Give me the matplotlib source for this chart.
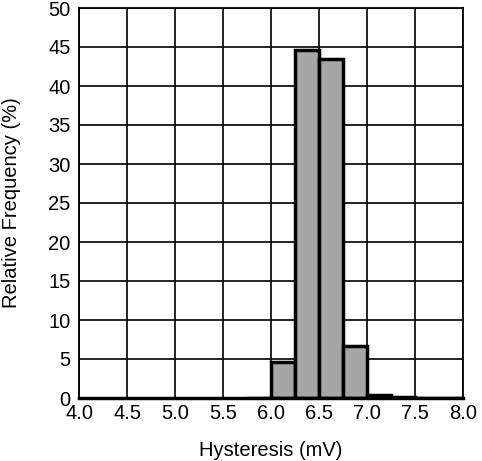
import numpy as np
import matplotlib
matplotlib.use("Agg")
import matplotlib.pyplot as plt

plt.rcParams["font.family"] = ["Liberation Sans", "DejaVu Sans"]

# histogram bins (mV) and relative frequency (%)
bin_left = [5.75, 6.0, 6.25, 6.5, 6.75, 7.0, 7.25, 7.5, 7.75]
freq = [0.05, 4.6, 44.6, 43.5, 6.7, 0.35, 0.12, 0.05, 0.05]
bin_width = 0.25

x_ticks = np.arange(4.0, 8.01, 0.5)
y_ticks = np.arange(0, 51, 5)

fig = plt.figure(figsize=(4.82, 4.61), dpi=100)
ax = fig.add_axes([79 / 482, 1 - 398 / 461, 384 / 482, 390 / 461])

ax.bar(bin_left, freq, width=bin_width, align="edge", color="#a6a6a6",
       edgecolor="black", linewidth=2.5, zorder=3)

ax.set_xlim(4.0, 8.0)
ax.set_ylim(0, 50)
ax.set_xticks(x_ticks)
ax.set_xticklabels([f"{v:.1f}" for v in x_ticks])
ax.set_yticks(y_ticks)
ax.grid(True, color="black", linewidth=1.2, zorder=0)
ax.tick_params(axis="x", length=0, labelsize=14.5, pad=4)
ax.tick_params(axis="y", length=0, labelsize=14.5, pad=6)
for s in ax.spines.values():
    s.set_linewidth(1.3)
ax.spines["bottom"].set_linewidth(2.5)
ax.spines["bottom"].set_zorder(4)

ax.set_xlabel("Hysteresis (mV)", fontsize=14.5, labelpad=13)
ax.set_ylabel("Relative Frequency (%)", fontsize=14.5, labelpad=20)

fig.savefig("out.png", dpi=100)
